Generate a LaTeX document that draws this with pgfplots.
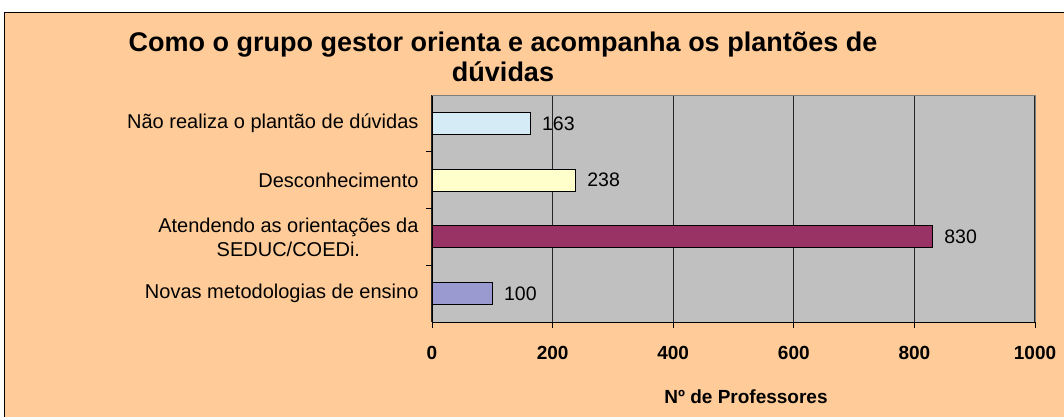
\documentclass[border=0pt]{standalone}
\usepackage{pgfplots}
\pgfplotsset{compat=1.18}
\usepackage{fontspec}
\setmainfont{Liberation Sans}
\definecolor{peach}{HTML}{FFCC99}
\definecolor{plotbg}{HTML}{C0C0C0}
\definecolor{cA}{HTML}{D5EBF5}
\definecolor{cB}{HTML}{FFFFCC}
\definecolor{cC}{HTML}{993366}
\definecolor{cD}{HTML}{9A9AD0}
\begin{document}
\begin{tikzpicture}[x=1pt,y=1pt]
\useasboundingbox (0,0) rectangle (1064,416);
\fill[peach] (4.5,-5) rectangle (1070,403.5);
\draw[line width=1.5pt] (4.5,-5) -- (4.5,403.5) -- (1070,403.5);
\node[font=\bfseries\fontsize{27}{30}\selectfont, align=center] at (503,359) {Como o grupo gestor orienta e acompanha os plantões de\\dúvidas};
\begin{axis}[
  at={(432pt,94pt)}, anchor=south west,
  width=603pt, height=227pt, scale only axis,
  xbar, bar width=22pt,
  xmin=0, xmax=1000, ymin=-0.5, ymax=3.5,
  /pgf/number format/assume math mode=true,
  /pgf/number format/1000 sep={},
  axis background/.style={fill=plotbg},
  axis x line*=bottom, axis y line*=left,
  axis line style={black, line width=1pt},
  xtick={0,200,...,1000},
  xmajorgrids, grid style={black!85, line width=1.2pt},
  tick align=outside, major tick length=6pt,
  tick style={black, line width=1pt},
  xticklabel style={font=\bfseries\fontsize{19}{22}\selectfont, yshift=-15pt},
  ytick={0.5,1.5,2.5}, yticklabels={},
  extra y ticks={0,1,2,3},
  extra y tick labels={Novas metodologias de ensino,{Atendendo as orientações da\\SEDUC/COEDi.},Desconhecimento,Não realiza o plantão de dúvidas},
  extra y tick style={major tick length=0pt},
  yticklabel style={font=\fontsize{20}{24}\selectfont, align=center, xshift=-10pt},
  nodes near coords,
  nodes near coords style={font=\fontsize{19.5}{22}\selectfont, anchor=west, xshift=8pt, black},
  every axis plot/.append style={bar shift=0pt, draw=black, line width=1pt},
  clip=false,
]
\addplot[fill=cD] coordinates {(100,0)};
\addplot[fill=cC] coordinates {(830,1)};
\addplot[fill=cB] coordinates {(238,2)};
\addplot[fill=cA] coordinates {(163,3)};
\draw[gray, line width=1pt] (rel axis cs:0,1) -- (rel axis cs:1,1) -- (rel axis cs:1,0);
\end{axis}
\node[font=\bfseries\fontsize{19}{22}\selectfont] at (746,19) {Nº de Professores};
\end{tikzpicture}
\end{document}
